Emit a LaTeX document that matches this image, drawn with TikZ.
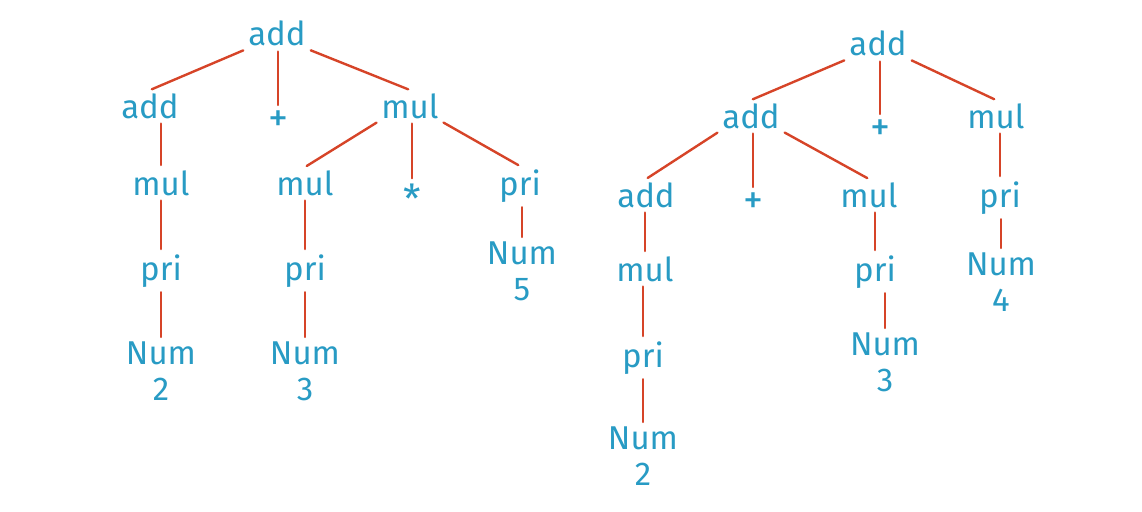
\documentclass[tikz,border=0pt]{standalone}
\usepackage{fontspec}
\setmainfont{Fira Sans}
\definecolor{tokblue}{RGB}{40,155,196}
\definecolor{edgered}{RGB}{214,68,40}
\tikzset{
  tok/.style={text=tokblue, font=\fontsize{33}{36}\selectfont, inner sep=3pt, anchor=base},
  op/.style={tok, font=\fontsize{40}{44}\selectfont},
  leaf/.style={tok, anchor=north, align=center},
  edge/.style={draw=edgered, line width=2.4pt, line cap=round, shorten <=2pt, shorten >=2pt},
}
\begin{document}
\begin{tikzpicture}[x=1pt,y=-1pt]
\useasboundingbox (0,0) rectangle (1142,511);
% left tree
\node[tok] (lroot) at (277,46) {add};
\node[tok] (ladd) at (150,118) {add};
\node[op] (lplus) at (278,131) {+};
\node[tok] (lmul) at (410,118) {mul};
\node[tok] (lmul1) at (161,195) {mul};
\node[tok] (lmul2) at (305,195) {mul};
\node[op] (lstar) at (412,213) {*};
\node[tok] (lpri3) at (520,195) {pri};
\node[tok] (lpri1) at (161,280) {pri};
\node[tok] (lpri2) at (305,280) {pri};
\node[leaf] (lnum1) at (161,339) {Num\\2};
\node[leaf] (lnum2) at (305,339) {Num\\3};
\node[leaf] (lnum3) at (522,239) {Num\\5};
% right tree
\node[tok] (rroot) at (878,56) {add};
\node[tok] (radd) at (751,128) {add};
\node[op] (rplus) at (880,140) {+};
\node[tok] (rmul) at (996,128) {mul};
\node[tok] (radd1) at (646,207) {add};
\node[op] (rplus1) at (753,213) {+};
\node[tok] (rmul1) at (869,207) {mul};
\node[tok] (rpri3) at (1000,207) {pri};
\node[tok] (rmul2) at (645,281) {mul};
\node[tok] (rpri2) at (875,281) {pri};
\node[tok] (rpri1) at (643,367) {pri};
\node[leaf] (rnum1) at (643,424) {Num\\2};
\node[leaf] (rnum2) at (885,330) {Num\\3};
\node[leaf] (rnum3) at (1001,250) {Num\\4};
% edges
\foreach \a/\b in {lroot/ladd, lmul/lmul2, rroot/radd, radd/radd1}
  \draw[edge] (\a.south west) -- (\b.north);
\foreach \a/\b in {lroot/lmul, lmul/lpri3, rroot/rmul, radd/rmul1}
  \draw[edge] (\a.south east) -- (\b.north);
\foreach \a/\b in {lroot/lplus, ladd/lmul1, lmul/lstar, lmul1/lpri1, lmul2/lpri2,
    lpri1/lnum1, lpri2/lnum2, lpri3/lnum3, rroot/rplus, radd/rplus1, rmul/rpri3,
    radd1/rmul2, rmul1/rpri2, rmul2/rpri1, rpri1/rnum1, rpri2/rnum2, rpri3/rnum3}
  \draw[edge] (\a.south -| \b.north) -- (\b.north);
\end{tikzpicture}
\end{document}
